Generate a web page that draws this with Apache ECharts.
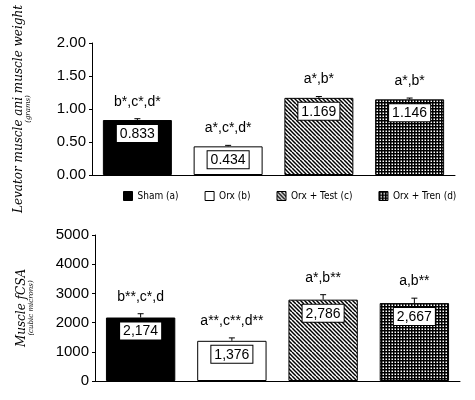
<!DOCTYPE html>
<html><head><meta charset="utf-8">
<script src="https://cdn.jsdelivr.net/npm/echarts@6/dist/echarts.min.js"></script>
<style>html,body{margin:0;padding:0;background:#fff}#c{width:475px;height:400px}</style>
</head><body><div id="c"></div>
<script>
const groups = ['Sham (a)', 'Orx (b)', 'Orx + Test (c)', 'Orx + Tren (d)'];
const weightValues = [0.833, 0.434, 1.169, 1.146];
const weightErrors = [0.02, 0.015, 0.02, 0.02];
const weightLabels = ['0.833', '0.434', '1.169', '1.146'];
const weightSig = ['b*,c*,d*', 'a*,c*,d*', 'a*,b*', 'a*,b*'];
const fcsaValues = [2174, 1376, 2786, 2667];
const fcsaErrors = [130, 100, 170, 170];
const fcsaLabels = ['2,174', '1,376', '2,786', '2,667'];
const fcsaSig = ['b**,c*,d', 'a**,c**,d**', 'a*,b**', 'a,b**'];

function tile(n,draw){const c=document.createElement('canvas');c.width=n;c.height=n;const g=c.getContext('2d');draw(g);return {image:c,repeat:'repeat'};}
const stripes = tile(8,g=>{g.fillStyle='#fff';g.fillRect(0,0,8,8);g.strokeStyle='#000';g.lineWidth=1.5;
  for(let k=-8;k<=16;k+=4){g.beginPath();g.moveTo(k,0);g.lineTo(k+8,8);g.stroke();}});
const checks = tile(6,g=>{g.fillStyle='#fff';g.fillRect(0,0,6,6);g.fillStyle='#000';g.fillRect(0,0,6,1.5);g.fillRect(0,3,6,1.5);g.fillRect(0,0,1.5,6);g.fillRect(3,0,1.5,6);});
const fills = ['#000', '#fff', stripes, checks];

const chart = echarts.init(document.getElementById('c'));
const ax = {type:'category', data:groups, axisLabel:{show:false}, axisTick:{show:false},
  axisLine:{lineStyle:{color:'#000',width:1}}};
function yax(min,max,interval,fmt,name){return {type:'value',min,max,interval,splitLine:{show:false},
  axisLine:{show:true,lineStyle:{color:'#000'}},axisTick:{show:true,length:3,lineStyle:{color:'#000'}},
  axisLabel:{color:'#000',fontSize:15,fontFamily:'Liberation Sans',formatter:fmt,margin:6},
  name,nameLocation:'middle',nameGap:60,nameRotate:90,
  nameTextStyle:{rich:{a:{fontFamily:'DejaVu Serif',fontStyle:'italic',fontSize:12,color:'#000'},
    b:{fontFamily:'DejaVu Serif',fontStyle:'italic',fontSize:7,color:'#000'}}}};}

const series=[];
function addBars(vals,labels,xi,yi){
  groups.forEach((gname,i)=>{
    series.push({name:gname,type:'bar',xAxisIndex:xi,yAxisIndex:yi,stack:'s'+xi,barWidth:'76%',
      data:vals.map((v,j)=>j===i?v:'-'),
      itemStyle:{color:fills[i],borderColor:'#000',borderWidth:1},
      label:{show:true,position:'insideTop',distance:5,formatter:()=>labels[i],color:'#000',fontSize:14,
        fontFamily:'Liberation Sans',backgroundColor:'#fff',borderColor:'#000',borderWidth:1,padding:[2,3,1,3]}});
  });
}
function addErr(vals,errs,sig,xi,yi){
  series.push({type:'custom',xAxisIndex:xi,yAxisIndex:yi,silent:true,
    data:vals.map((v,i)=>[i,v,errs[i]]),
    renderItem:(p,api)=>{const i=api.value(0),v=api.value(1),e=api.value(2);
      const a=api.coord([i,v]),b=api.coord([i,v+e]);
      return {type:'group',children:[
        {type:'line',shape:{x1:a[0],y1:a[1],x2:b[0],y2:b[1]},style:{stroke:'#000',lineWidth:1}},
        {type:'line',shape:{x1:b[0]-3,y1:b[1],x2:b[0]+3,y2:b[1]},style:{stroke:'#000',lineWidth:1}},
        {type:'text',x:b[0],y:b[1]-10,style:{text:sig[i],fill:'#000',fontSize:14,fontFamily:'Liberation Sans',
          textAlign:'center',textVerticalAlign:'bottom'}}]};}});
}
addBars(weightValues,weightLabels,0,0);
addErr(weightValues,weightErrors,weightSig,0,0);
addBars(fcsaValues,fcsaLabels,1,1);
addErr(fcsaValues,fcsaErrors,fcsaSig,1,1);

chart.setOption({
  animation:false,
  grid:[{left:92,right:20,top:43,height:132},{left:95,right:15,top:235,height:146}],
  xAxis:[Object.assign({gridIndex:0},ax),Object.assign({gridIndex:1},ax)],
  yAxis:[Object.assign({gridIndex:0},yax(0,2,0.5,v=>v.toFixed(2),'{a|Levator muscle ani muscle weight}\n{b|(grams)}')),
         Object.assign({gridIndex:1},yax(0,5000,1000,v=>String(v),'{a|Muscle fCSA}\n{b|(cubic microns)}'))],
  legend:{data:groups,top:186,left:118,itemWidth:9,itemHeight:9,itemGap:26,icon:'rect',
    textStyle:{fontFamily:'DejaVu Sans Condensed',fontSize:10,color:'#000'},
    itemStyle:{borderColor:'#000',borderWidth:1}},
  series
});
</script></body></html>
